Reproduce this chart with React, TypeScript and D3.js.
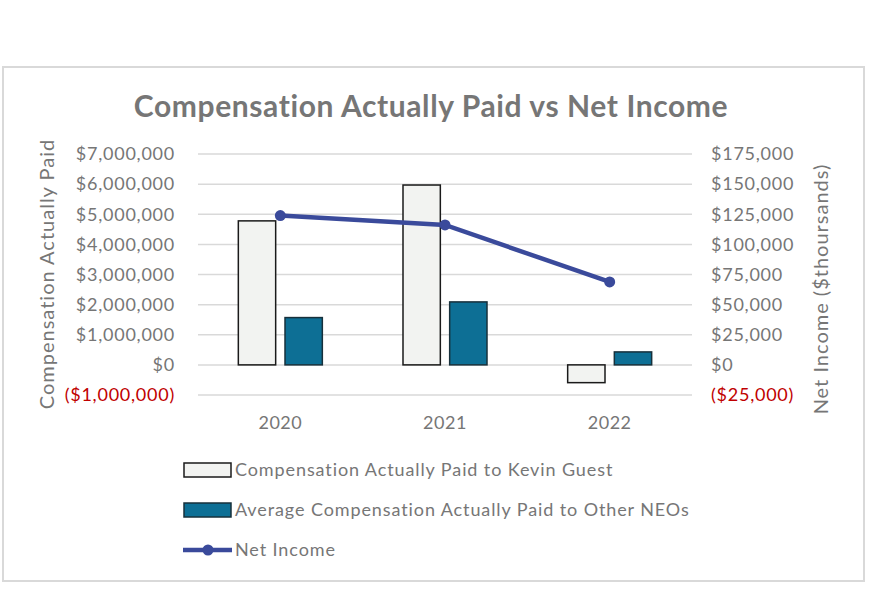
import React from "react";
import * as d3 from "d3";

const categories = ["2020", "2021", "2022"];
const kevinValues = [4780000, 5970000, -590000];
const neoValues = [1570000, 2090000, 430000];
const netIncome = [123900, 116100, 68800];
const leftTicks = [-1000000, 0, 1000000, 2000000, 3000000, 4000000, 5000000, 6000000, 7000000];
const rightTicks = [-25000, 0, 25000, 50000, 75000, 100000, 125000, 150000, 175000];
const seriesNames = [
  "Compensation Actually Paid to Kevin Guest",
  "Average Compensation Actually Paid to Other NEOs",
  "Net Income",
];

const W = 872;
const H = 614;
const FONT = "Lato, 'Open Sans', sans-serif";
const GRAY = "#767676";
const RED = "#c00000";

function fmtMoney(v: number) {
  const s = "$" + d3.format(",")(Math.abs(v));
  return v < 0 ? "(" + s + ")" : s;
}

export default function App() {
  const plotL = 198, plotR = 692;
  const yL = d3.scaleLinear().domain([-1000000, 7000000]).range([395, 154]);
  const yR = d3.scaleLinear().domain([-25000, 175000]).range([395, 154]);
  const x = d3.scaleBand().domain(categories).range([plotL, plotR]);
  const sub = d3.scaleBand().domain(["k", "n"]).range([-42, 42]).paddingInner(0.2);
  const cx = (c: string) => (x(c) as number) + x.bandwidth() / 2;

  const line = d3
    .line<number>()
    .x((_, i) => cx(categories[i]))
    .y((d) => yR(d));

  const barRect = (c: string, key: string, v: number, scale: d3.ScaleLinear<number, number>) => {
    const y0 = scale(0);
    const y1 = scale(v);
    return {
      x: cx(c) + (sub(key) as number),
      y: Math.min(y0, y1),
      w: sub.bandwidth(),
      h: Math.abs(y1 - y0),
    };
  };

  const tickStyle = { letterSpacing: "0.75px" };

  return (
    <svg width={W} height={H} style={{ display: "block", position: "absolute", left: 0, top: 0 }}>
      <rect x={0} y={0} width={W} height={H} fill="#fff" />
      <rect x={3} y={67} width={861} height={514} fill="#fff" stroke="#d9d9d9" strokeWidth={2} />
      <text x={431} y={117} textAnchor="middle" fontFamily={FONT} fontWeight={700} fontSize={30} fill={GRAY} style={{ letterSpacing: "0.6px" }}>
        Compensation Actually Paid vs Net Income
      </text>

      {leftTicks.map((t) => (
        <line key={"g" + t} x1={plotL} x2={plotR} y1={yL(t)} y2={yL(t)} stroke="#d9d9d9" strokeWidth={1.5} />
      ))}
      {leftTicks.map((t) => (
        <text key={"l" + t} x={175} y={yL(t)} dy="0.35em" textAnchor="end" fontFamily={FONT} fontSize={18} fill={t < 0 ? RED : GRAY} style={tickStyle}>
          {fmtMoney(t)}
        </text>
      ))}
      {rightTicks.map((t) => (
        <text key={"r" + t} x={711} y={yR(t)} dy="0.35em" textAnchor="start" fontFamily={FONT} fontSize={18} fill={t < 0 ? RED : GRAY} style={tickStyle}>
          {fmtMoney(t)}
        </text>
      ))}
      <text transform={`translate(54,274) rotate(-90)`} textAnchor="middle" fontFamily={FONT} fontSize={20} fill={GRAY} style={{ letterSpacing: "1px" }}>
        Compensation Actually Paid
      </text>
      <text transform={`translate(828,289) rotate(-90)`} textAnchor="middle" fontFamily={FONT} fontSize={20} fill={GRAY} style={{ letterSpacing: "1px" }}>
        Net Income ($thoursands)
      </text>

      {categories.map((c) => (
        <text key={"c" + c} x={cx(c)} y={429} textAnchor="middle" fontFamily={FONT} fontSize={18} fill={GRAY} style={{ letterSpacing: "0.5px" }}>
          {c}
        </text>
      ))}

      {categories.map((c, i) => {
        const r = barRect(c, "k", kevinValues[i], yL);
        return <rect key={"k" + c} x={r.x} y={r.y} width={r.w} height={r.h} fill="#f2f3f1" stroke="#1a1a1a" strokeWidth={1.5} />;
      })}
      {categories.map((c, i) => {
        const r = barRect(c, "n", neoValues[i], yL);
        return <rect key={"n" + c} x={r.x} y={r.y} width={r.w} height={r.h} fill="#0d6f95" stroke="#17303b" strokeWidth={1.5} />;
      })}

      <path d={line(netIncome) || ""} fill="none" stroke="#3a4a9b" strokeWidth={4.5} />
      {netIncome.map((v, i) => (
        <circle key={"p" + i} cx={cx(categories[i])} cy={yR(v)} r={5.5} fill="#3a4a9b" />
      ))}

      <g fontFamily={FONT} fontSize={18} fill={GRAY} style={{ letterSpacing: "0.9px" }}>
        <rect x={184} y={463} width={47} height={14} fill="#f2f3f1" stroke="#1a1a1a" strokeWidth={1.5} />
        <text x={235} y={470} dy="0.35em">{seriesNames[0]}</text>
        <rect x={184} y={503} width={47} height={14} fill="#0d6f95" stroke="#17303b" strokeWidth={1.5} />
        <text x={235} y={510} dy="0.35em">{seriesNames[1]}</text>
        <line x1={183} x2={232} y1={550} y2={550} stroke="#3a4a9b" strokeWidth={4.5} />
        <circle cx={208} cy={550} r={5.5} fill="#3a4a9b" />
        <text x={235} y={550} dy="0.35em">{seriesNames[2]}</text>
      </g>
    </svg>
  );
}
